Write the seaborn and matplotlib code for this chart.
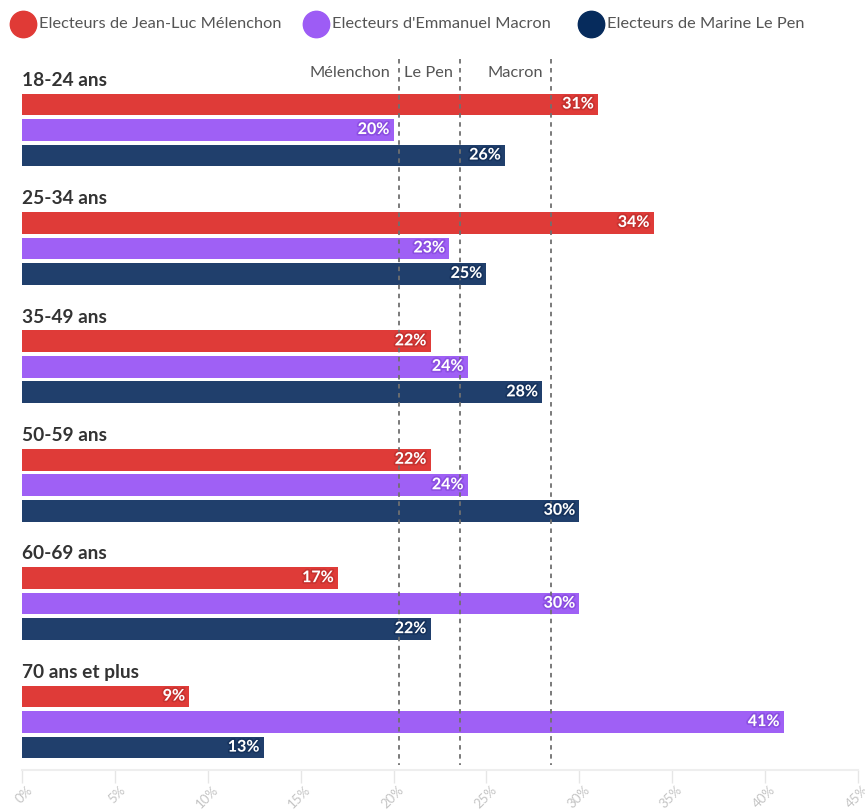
import matplotlib
matplotlib.use("Agg")
import matplotlib.pyplot as plt
import matplotlib.patheffects as pe
import matplotlib.transforms as mtransforms
import seaborn as sns
import pandas as pd
from matplotlib.lines import Line2D

groups = ["18-24 ans", "25-34 ans", "35-49 ans", "50-59 ans", "60-69 ans", "70 ans et plus"]
series = ["Electeurs de Jean-Luc Mélenchon", "Electeurs d'Emmanuel Macron", "Electeurs de Marine Le Pen"]
melenchon = [31, 34, 22, 22, 17, 9]
macron = [20, 23, 24, 24, 30, 41]
lepen = [26, 25, 28, 30, 22, 13]
ref_names = ["Mélenchon", "Le Pen", "Macron"]
ref_values = [20.3, 23.6, 28.5]
x_ticks = [0, 5, 10, 15, 20, 25, 30, 35, 40, 45]

bar_colors = ["#df3b38", "#9f60f5", "#203f6c"]
shadow_colors = ["#b02a28", "#7a3fd0", "#0e2850"]
legend_colors = ["#e03a36", "#9d5cf5", "#062b5c"]

rows = []
for s, vals in zip(series, [melenchon, macron, lepen]):
    for g, v in zip(groups, vals):
        rows.append({"group": g, "series": s, "value": v})
df = pd.DataFrame(rows)

sns.set_theme(style="white")
plt.rcParams["font.family"] = ["Lato", "DejaVu Sans"]

fig = plt.figure(figsize=(8.65, 8.10), dpi=100)
W, H = 865, 810
ax = fig.add_axes([22 / W, (H - 770) / H, (858 - 22) / W, (770 - 58) / H])

sns.barplot(data=df, y="group", x="value", hue="series", order=groups, hue_order=series,
            palette=bar_colors, orient="h", width=0.646, gap=0.15, legend=False,
            saturation=1, ax=ax, linewidth=0, zorder=2)

ax.set_xlim(0, 45)
ax.set_ylim(5.405, -0.608)

# value labels
for cont, sc in zip(ax.containers, shadow_colors):
    for p in cont.patches:
        w = p.get_width()
        yc = p.get_y() + p.get_height() / 2
        ax.text(w - 0.22, yc, f"{w:.0f}%", ha="right", va="center", color="white",
                fontsize=11.5, fontweight="bold", zorder=5,
                path_effects=[pe.withStroke(linewidth=2.5, foreground=sc, alpha=0.5)])

# reference dashed lines
for name, v in zip(ref_names, ref_values):
    ax.plot([v, v], [-0.6, 5.36], color="#707070", lw=1.3, ls=(0, (2.5, 2.5)), zorder=3)
ax.text(ref_values[0] - 0.45, -0.48, ref_names[0], ha="right", va="center", color="#555555", fontsize=11.8)
ax.text(ref_values[0] + 0.25, -0.48, ref_names[1], ha="left", va="center", color="#555555", fontsize=11.8)
ax.text(ref_values[2] - 0.45, -0.48, ref_names[2], ha="right", va="center", color="#555555", fontsize=11.8)

# group labels
for i, g in enumerate(groups):
    ax.text(0, i - 0.42, g, ha="left", va="center", color="#333333", fontsize=13.8, fontweight="bold")

ax.set_ylabel("")
ax.set_xlabel("")
ax.set_yticks([])
ax.set_xticks(x_ticks)
ax.set_xticklabels([f"{t}%" for t in x_ticks], rotation=45, ha="right", rotation_mode="anchor",
                   color="#c4c4c4", fontsize=9.5)
ax.tick_params(axis="x", length=9, color="#e6e6e6", width=1, pad=1, bottom=True)
offset = mtransforms.ScaledTranslation(4 / 100, 0, fig.dpi_scale_trans)
for lbl in ax.get_xticklabels():
    lbl.set_transform(lbl.get_transform() + offset)
for side in ["top", "right", "left"]:
    ax.spines[side].set_visible(False)
ax.spines["bottom"].set_color("#eeeeee")
ax.spines["bottom"].set_linewidth(1.5)

# legend
leg_x = [23, 316, 591]
for x0, c, s in zip(leg_x, legend_colors, series):
    fig.add_artist(Line2D([x0 / W], [(H - 24) / H], marker="o", markersize=19, color=c,
                          transform=fig.transFigure, linestyle="none"))
    fig.text((x0 + 16) / W, (H - 24) / H, s, ha="left", va="center", color="#555555", fontsize=11.8)

fig.savefig("out.png", dpi=100)
